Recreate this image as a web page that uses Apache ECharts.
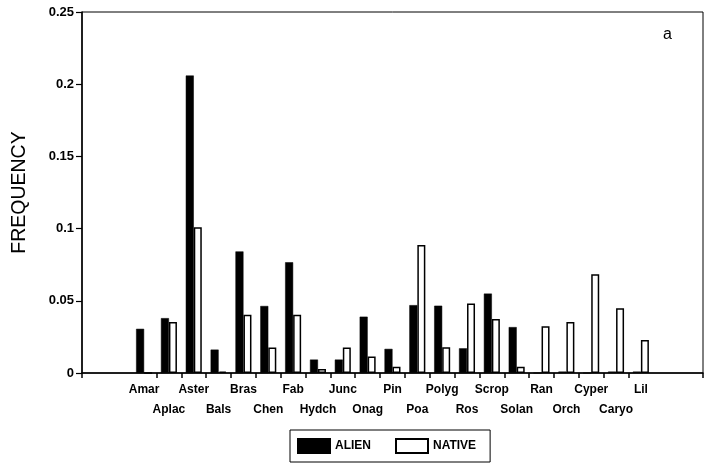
<!DOCTYPE html>
<html>
<head>
<meta charset="utf-8">
<script src="https://cdn.jsdelivr.net/npm/echarts@6/dist/echarts.min.js"></script>
<style>html,body{margin:0;padding:0;background:#fff;}#c{width:714px;height:464px;}</style>
</head>
<body>
<div id="c"></div>
<script>
const categories = ['', '', 'Amar', 'Aplac', 'Aster', 'Bals', 'Bras', 'Chen', 'Fab', 'Hydch', 'Junc', 'Onag', 'Pin', 'Poa', 'Polyg', 'Ros', 'Scrop', 'Solan', 'Ran', 'Orch', 'Cyper', 'Caryo', 'Lil', '', ''];
const alien =  [null, null, 0.0306, 0.038, 0.206, 0.0162, 0.0842, 0.0464, 0.0767, 0.0093, 0.0093, 0.039, 0.0167, 0.047, 0.0466, 0.0171, 0.055, 0.0318, 0, 0.001, 0, 0.001, 0.001, null, null];
const native = [null, null, 0, 0.0353, 0.101, 0.001, 0.0403, 0.0176, 0.0403, 0.0027, 0.0176, 0.0115, 0.0043, 0.0886, 0.0178, 0.0482, 0.0374, 0.0043, 0.0324, 0.0353, 0.0683, 0.0448, 0.0228, null, null];
const yTicks = [0, 0.05, 0.1, 0.15, 0.2, 0.25];
const hiddenTickSlots = [1, 2, 23, 24];

const chart = echarts.init(document.getElementById('c'), null, {renderer: 'canvas'});
const font = 'Liberation Sans';
chart.setOption({
  animation: false,
  backgroundColor: '#fff',
  title: {
    text: 'a', left: 658, top: 22,
    textStyle: {fontFamily: font, fontSize: 16, fontWeight: 'normal', color: '#000'}
  },
  grid: {left: 82, right: 11, top: 12, bottom: 91, show: true, borderColor: '#000', borderWidth: 1},
  legend: {
    data: ['ALIEN', 'NATIVE'],
    left: 290, top: 430,
    icon: 'rect', itemWidth: 32, itemHeight: 14, itemGap: 24,
    borderColor: '#000', borderWidth: 1, padding: [8, 14, 8, 7],
    textStyle: {fontFamily: font, fontSize: 12, fontWeight: 'bold', color: '#000'}
  },
  xAxis: {
    type: 'category',
    data: categories,
    boundaryGap: true,
    axisLine: {show: true, lineStyle: {color: '#000', width: 1.5}},
    axisTick: {
      show: true, length: 5, lineStyle: {color: '#000', width: 1.5},
      interval: function (i) { return hiddenTickSlots.indexOf(i) === -1; }
    },
    axisLabel: {
      interval: 0, margin: 7, lineHeight: 20,
      fontFamily: font, fontSize: 12, fontWeight: 'bold', color: '#000',
      formatter: function (v, i) { return ((i - 2) % 2 === 1) ? '\n' + v : v; }
    }
  },
  yAxis: {
    type: 'value', min: 0, max: 0.25, interval: 0.05,
    name: 'FREQUENCY', nameLocation: 'middle', nameGap: 52, nameRotate: 90,
    nameTextStyle: {fontFamily: font, fontSize: 19.5, color: '#000'},
    splitLine: {show: false},
    axisLine: {show: true, lineStyle: {color: '#000', width: 1.5}},
    axisTick: {show: true, length: 6, lineStyle: {color: '#000', width: 1.2}},
    axisLabel: {
      fontFamily: font, fontSize: 13, fontWeight: 'bold', color: '#000', margin: 8,
      formatter: function (v) { const t = yTicks.find(x => Math.abs(x - v) < 1e-9); return String(t === undefined ? v : t); }
    }
  },
  series: [
    {name: 'ALIEN', type: 'bar', data: alien, barWidth: 8, barGap: '0%',
     itemStyle: {color: '#000', borderColor: '#000', borderWidth: 0.5}},
    {name: 'NATIVE', type: 'bar', data: native, barWidth: 8,
     itemStyle: {color: '#fff', borderColor: '#000', borderWidth: 1.5}}
  ]
});
</script>
</body>
</html>
